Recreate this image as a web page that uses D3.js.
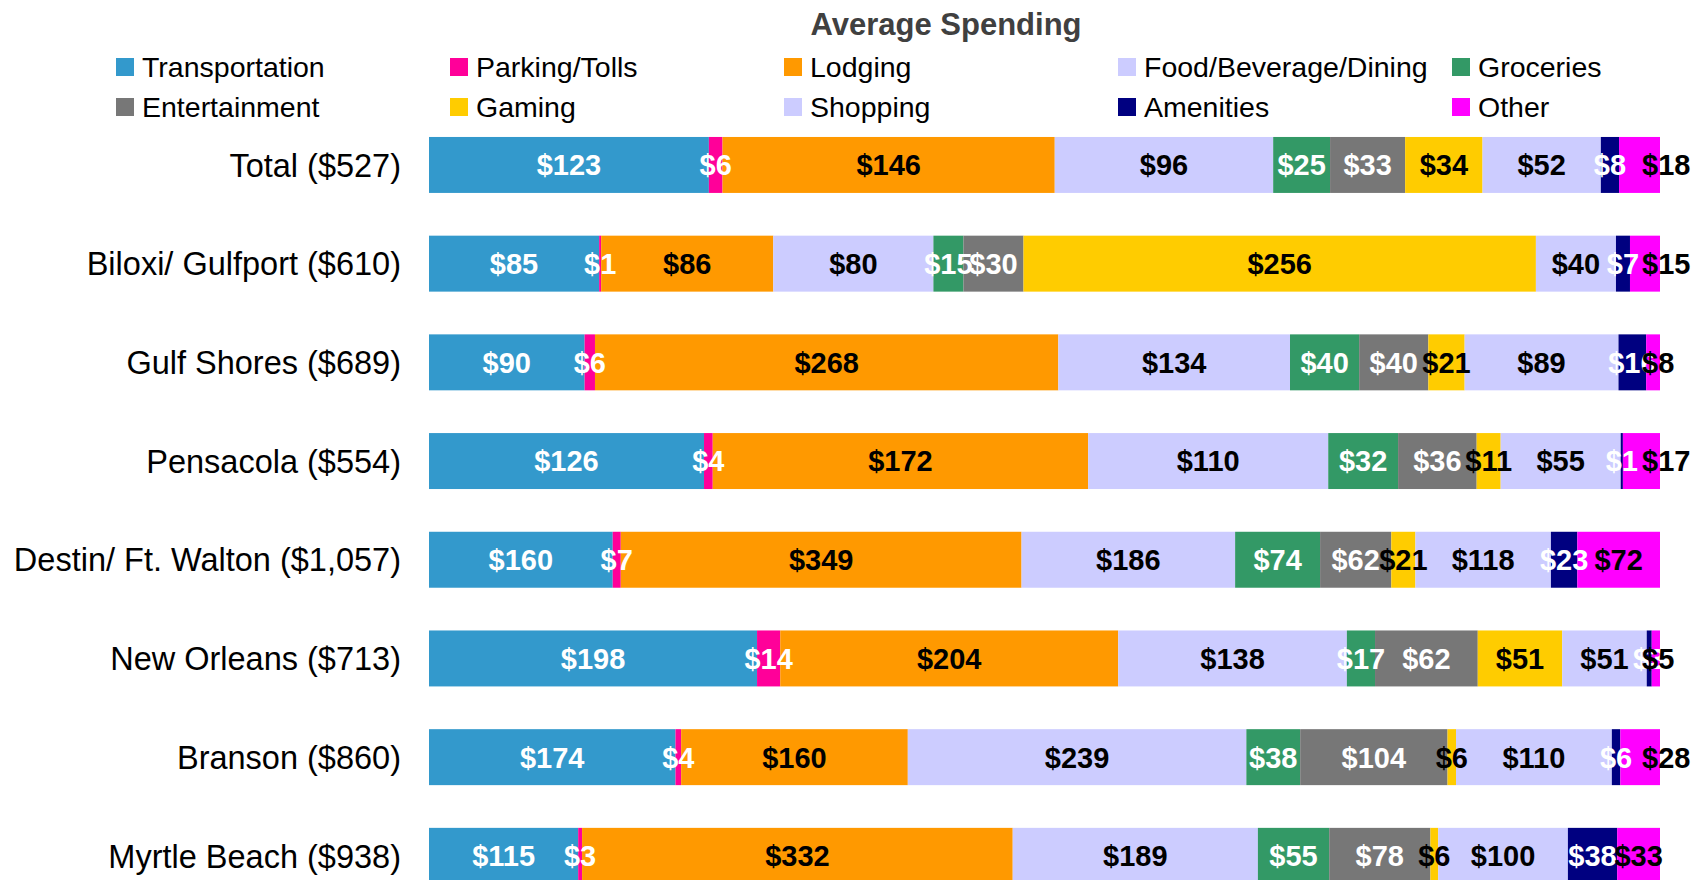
<!DOCTYPE html>
<html>
<head>
<meta charset="utf-8">
<script src="https://cdn.jsdelivr.net/npm/d3@7"></script>
<style>
  body { margin: 0; background: #fff; }
  svg { display: block; font-family: "Liberation Sans", Arial, sans-serif; }
</style>
</head>
<body>
<svg id="chart" width="1700" height="880"></svg>
<script>
// categories (rows, top to bottom)
let places = ["Total ($527)", "Biloxi/ Gulfport ($610)", "Gulf Shores ($689)", "Pensacola ($554)",
    "Destin/ Ft. Walton ($1,057)", "New Orleans ($713)", "Branson ($860)", "Myrtle Beach ($938)"];

// spending series, one value per row
let transportation = [123, 85, 90, 126, 160, 198, 174, 115];
let parking        = [6, 1, 6, 4, 7, 14, 4, 3];
let lodging        = [146, 86, 268, 172, 349, 204, 160, 332];
let food           = [96, 80, 134, 110, 186, 138, 239, 189];
let groceries      = [25, 15, 40, 32, 74, 17, 38, 55];
let entertainment  = [33, 30, 40, 36, 62, 62, 104, 78];
let gaming         = [34, 256, 21, 11, 21, 51, 6, 6];
let shopping       = [52, 40, 89, 55, 118, 51, 110, 100];
let amenities      = [8, 7, 16, 1, 23, 3, 6, 38];
let other          = [18, 15, 8, 17, 72, 5, 28, 33];

let seriesNames = ["Transportation", "Parking/Tolls", "Lodging", "Food/Beverage/Dining", "Groceries",
    "Entertainment", "Gaming", "Shopping", "Amenities", "Other"];
let seriesValues = [transportation, parking, lodging, food, groceries,
    entertainment, gaming, shopping, amenities, other];
let colors = ["#3399cc", "#ff0099", "#ff9900", "#ccccff", "#339966",
    "#777777", "#ffcc00", "#ccccff", "#000080", "#ff00ff"];
let labelColors = ["#fff", "#fff", "#000", "#000", "#fff", "#fff", "#000", "#000", "#fff", "#000"];

// build rows for the stack
let rows = places.map((p, i) => {
    let r = { place: p };
    seriesNames.forEach((s, j) => { r[s] = seriesValues[j][i]; });
    return r;
});

let stack = d3.stack().keys(seriesNames).offset(d3.stackOffsetExpand);
let layers = stack(rows);

let svg = d3.select("#chart");

let x = d3.scaleLinear().domain([0, 1]).range([429, 1660]);
let y = d3.scaleBand()
    .domain(places)
    .range([115.6, 905.2])
    .paddingInner(0.433)
    .paddingOuter(0.2165);

// title
svg.append("text")
    .attr("x", 946)
    .attr("y", 35)
    .attr("text-anchor", "middle")
    .attr("font-size", 31)
    .attr("font-weight", "bold")
    .attr("fill", "#404040")
    .text("Average Spending");

// legend, two rows of five
let legend = svg.append("g");
seriesNames.forEach((s, i) => {
    let col = i % 5, row = Math.floor(i / 5);
    let g = legend.append("g")
        .attr("transform", "translate(" + (116 + col * 334) + "," + (67 + row * 40) + ")");
    g.append("rect")
        .attr("x", 0).attr("y", -9)
        .attr("width", 18).attr("height", 18)
        .attr("fill", colors[i]);
    g.append("text")
        .attr("x", 26)
        .attr("y", 0)
        .attr("dy", "0.35em")
        .attr("font-size", 28.5)
        .attr("fill", "#000")
        .text(s);
});

// bars
let layerG = svg.selectAll("g.layer")
    .data(layers)
    .join("g")
    .attr("class", "layer")
    .attr("fill", (d, i) => colors[i]);

layerG.selectAll("rect")
    .data(d => d)
    .join("rect")
    .attr("x", d => x(d[0]))
    .attr("y", d => y(d.data.place))
    .attr("width", d => x(d[1]) - x(d[0]))
    .attr("height", y.bandwidth());

// value labels
let labelG = svg.selectAll("g.labels")
    .data(layers)
    .join("g")
    .attr("class", "labels")
    .attr("fill", (d, i) => labelColors[i])
    .attr("font-size", 29)
    .attr("font-weight", "bold")
    .attr("text-anchor", "middle");

labelG.selectAll("text")
    .data(d => d.map(v => ({ v: v, key: d.key })))
    .join("text")
    .attr("x", d => (x(d.v[0]) + x(d.v[1])) / 2)
    .attr("y", d => y(d.v.data.place) + y.bandwidth() / 2)
    .attr("dy", "0.36em")
    .text(d => "$" + d.v.data[d.key])
    .each(function(d) {
        // last segment: labels that don't fit get pushed out past the bar end
        if (d.key !== "Other") return;
        let w = this.getComputedTextLength();
        let segW = x(d.v[1]) - x(d.v[0]);
        if (w > segW + 6) {
            d3.select(this)
                .attr("text-anchor", "start")
                .attr("x", x(1) - 18);
        }
    });

// category labels
svg.append("g")
    .selectAll("text")
    .data(places)
    .join("text")
    .attr("x", 401)
    .attr("y", d => y(d) + y.bandwidth() / 2)
    .attr("dy", "0.36em")
    .attr("text-anchor", "end")
    .attr("font-size", 32.5)
    .attr("fill", "#000")
    .text(d => d);
</script>
</body>
</html>
